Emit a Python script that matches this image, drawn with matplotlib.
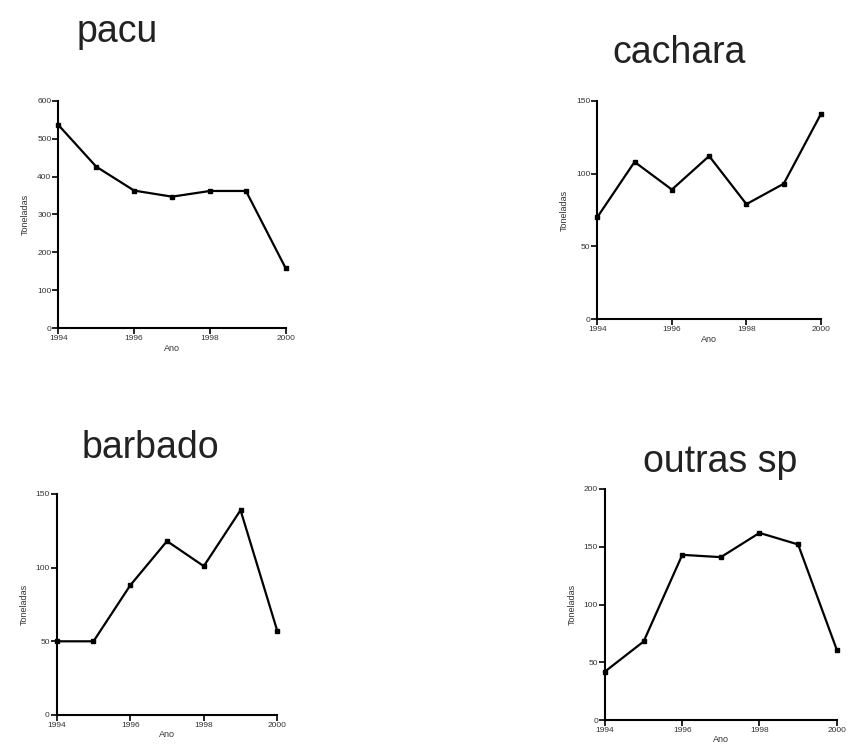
import numpy as np
import matplotlib.pyplot as plt

plt.rcParams['font.family'] = ['Liberation Sans', 'DejaVu Sans']

anos = [1994, 1995, 1996, 1997, 1998, 1999, 2000]
anos_pacu = [1994, 1995, 1996, 1997, 1998, 1998.95, 2000]
xticks = [1994, 1996, 1998, 2000]

pacu = [536, 426, 363, 347, 362, 362, 158]
cachara = [70, 108, 89, 112, 79, 93, 141]
barbado = [50, 50, 88, 118, 101, 139, 57]
outras = [42, 68, 143, 141, 162, 152, 61]

fig = plt.figure(figsize=(8.53, 7.53), dpi=100)


def painel(rect, x, y, ymax, ystep, nome, tpos):
    ax = fig.add_axes(rect)
    ax.plot(x, y, color='black', lw=1.6, marker='s', ms=3.5, clip_on=False)
    ax.set_xlim(1994, 2000)
    ax.set_ylim(0, ymax)
    ax.set_xticks(xticks)
    ax.set_xticklabels([str(a) for a in xticks])
    ax.set_yticks(np.arange(0, ymax + 1, ystep))
    ax.spines['top'].set_visible(False)
    ax.spines['right'].set_visible(False)
    ax.spines['left'].set_linewidth(1.5)
    ax.spines['bottom'].set_linewidth(1.5)
    ax.tick_params(labelsize=6, width=1.2, length=4, pad=1, colors='black',
                   labelcolor='#333333')
    ax.set_xlabel('Ano', fontsize=6.5, labelpad=1, color='#333333')
    ax.set_ylabel('Toneladas', fontsize=6.5, labelpad=5, color='#333333')
    fig.text(tpos[0], tpos[1], nome, fontsize=27, color='#222222')
    return ax


painel([0.0684, 0.564, 0.2666, 0.3023], anos_pacu, pacu, 600, 100, 'pacu', (0.090, 0.944))
painel([0.7002, 0.576, 0.2623, 0.2903], anos, cachara, 150, 50, 'cachara', (0.718, 0.916))
painel([0.0665, 0.0505, 0.2586, 0.2935], anos, barbado, 150, 50, 'barbado', (0.096, 0.392))
painel([0.7093, 0.0438, 0.2716, 0.3068], anos, outras, 200, 50, 'outras sp', (0.754, 0.373))

plt.savefig('out.png', dpi=100)
